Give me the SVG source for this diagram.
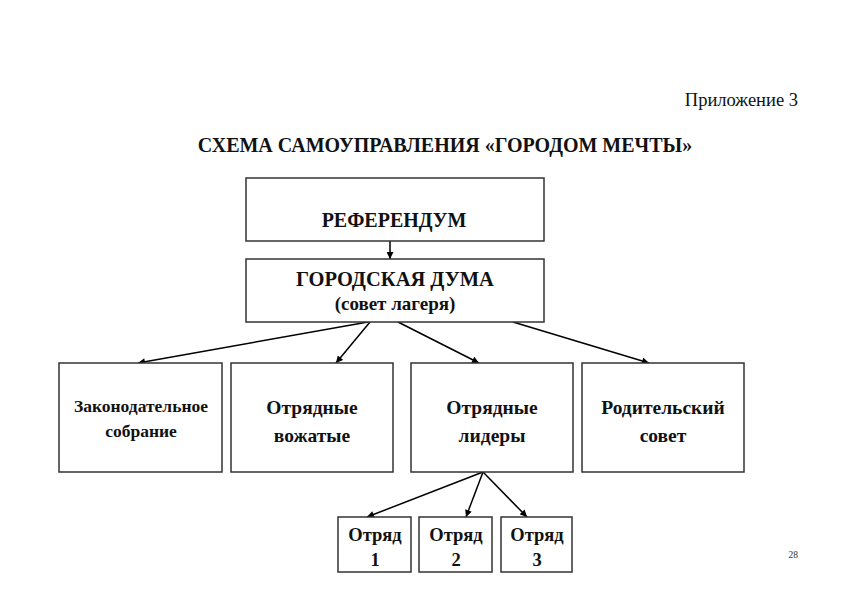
<svg xmlns="http://www.w3.org/2000/svg" width="842" height="595" viewBox="0 0 842 595">
<defs>
<marker id="ah" viewBox="0 0 10 10" refX="10" refY="5" markerWidth="8" markerHeight="7" markerUnits="userSpaceOnUse" orient="auto">
<path d="M0,0 L10,5 L0,10 z" fill="#000"/>
</marker>
</defs>
<style>
.box{fill:#fff;stroke:#333;stroke-width:1.5}
.t{font-family:"Liberation Serif","Times New Roman",serif;font-weight:bold;fill:#111;text-anchor:middle}
.c{stroke:#000;stroke-width:1.5;fill:none;marker-end:url(#ah)}
</style>
<rect width="842" height="595" fill="#fff"/>
<text x="798" y="106" style="font-family:'Liberation Serif',serif;font-size:18.5px;fill:#111;text-anchor:end">Приложение 3</text>
<text x="445" y="152" class="t" style="font-size:20px">СХЕМА САМОУПРАВЛЕНИЯ «ГОРОДОМ МЕЧТЫ»</text>
<text x="798" y="558" style="font-family:'Liberation Serif',serif;font-size:9.5px;fill:#333;text-anchor:end">28</text>
<g id="connectors">
<line class="c" x1="368" y1="322" x2="138" y2="363"/>
<line class="c" x1="390" y1="241" x2="390" y2="259"/>
<line class="c" x1="370" y1="322" x2="336" y2="363"/>
<line class="c" x1="398" y1="322" x2="479" y2="363"/>
<line class="c" x1="513" y1="322" x2="649" y2="363"/>
<line class="c" x1="483" y1="472" x2="367" y2="517"/>
<line class="c" x1="483" y1="472" x2="466" y2="517"/>
<line class="c" x1="483" y1="472" x2="527" y2="517"/>
</g>
<g id="referendum">
<rect class="box" x="246" y="178" width="298" height="63"/>
<text x="394" y="227" class="t" style="font-size:20px">РЕФЕРЕНДУМ</text>
</g>
<g id="duma">
<rect class="box" x="246" y="259" width="298" height="63"/>
<text x="395" y="286" class="t" style="font-size:20.5px">ГОРОДСКАЯ ДУМА</text>
<text x="395" y="310" class="t" style="font-size:19px">(совет лагеря)</text>
</g>
<g id="zakon">
<rect class="box" x="59" y="363" width="163" height="109"/>
<text x="141" y="412" class="t" style="font-size:17.5px">Законодательное</text>
<text x="141" y="437" class="t" style="font-size:17.5px">собрание</text>
</g>
<g id="vozhatye">
<rect class="box" x="231" y="363" width="162" height="109"/>
<text x="312" y="414" class="t" style="font-size:19.5px">Отрядные</text>
<text x="312" y="442" class="t" style="font-size:19.5px">вожатые</text>
</g>
<g id="lidery">
<rect class="box" x="411" y="363" width="162" height="109"/>
<text x="492" y="414" class="t" style="font-size:19.5px">Отрядные</text>
<text x="492" y="442" class="t" style="font-size:19.5px">лидеры</text>
</g>
<g id="roditel">
<rect class="box" x="582" y="363" width="162" height="109"/>
<text x="663" y="414" class="t" style="font-size:19.5px">Родительский</text>
<text x="663" y="442" class="t" style="font-size:19.5px">совет</text>
</g>
<g id="otryad1">
<rect class="box" x="338" y="517" width="73" height="55"/>
<text x="375" y="541" class="t" style="font-size:18.5px">Отряд</text>
<text x="375" y="566" class="t" style="font-size:18.5px">1</text>
</g>
<g id="otryad2">
<rect class="box" x="419" y="517" width="73" height="55"/>
<text x="456" y="541" class="t" style="font-size:18.5px">Отряд</text>
<text x="456" y="566" class="t" style="font-size:18.5px">2</text>
</g>
<g id="otryad3">
<rect class="box" x="501" y="517" width="71" height="55"/>
<text x="537" y="541" class="t" style="font-size:18.5px">Отряд</text>
<text x="537" y="566" class="t" style="font-size:18.5px">3</text>
</g>
</svg>
